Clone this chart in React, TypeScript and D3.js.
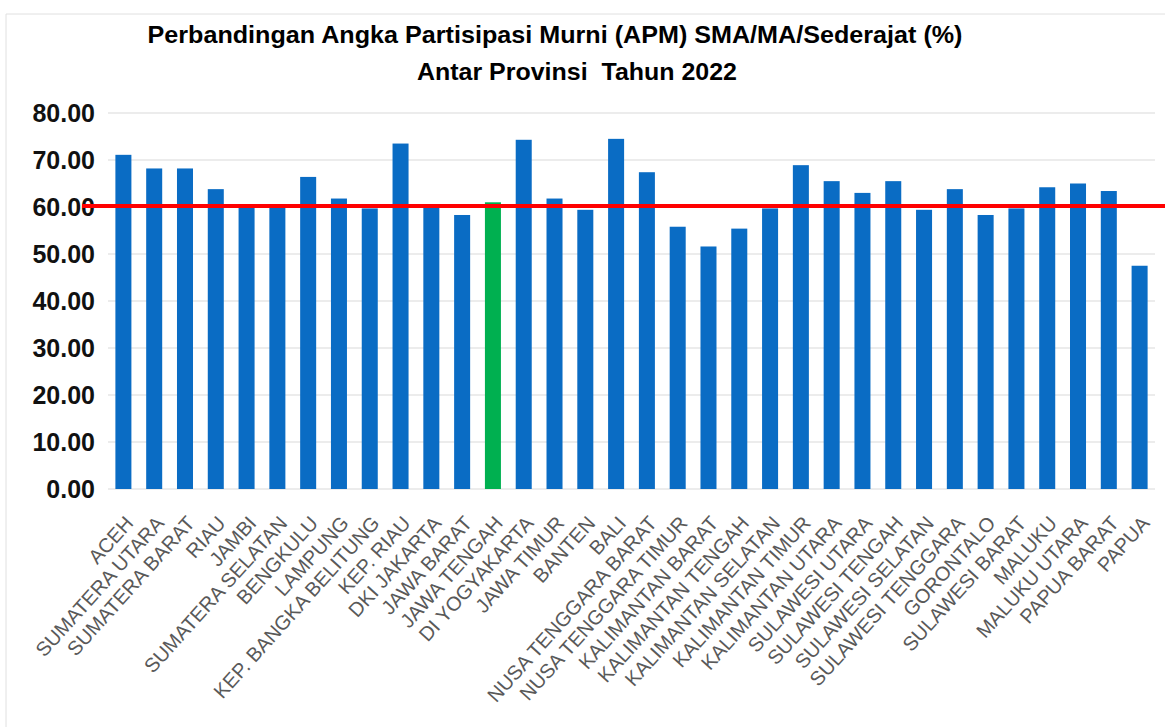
import React from 'react';
import * as d3 from 'd3';

const provinces = [
  'ACEH', 'SUMATERA UTARA', 'SUMATERA BARAT', 'RIAU', 'JAMBI', 'SUMATERA SELATAN',
  'BENGKULU', 'LAMPUNG', 'KEP. BANGKA BELITUNG', 'KEP. RIAU', 'DKI JAKARTA', 'JAWA BARAT',
  'JAWA TENGAH', 'DI YOGYAKARTA', 'JAWA TIMUR', 'BANTEN', 'BALI', 'NUSA TENGGARA BARAT',
  'NUSA TENGGARA TIMUR', 'KALIMANTAN BARAT', 'KALIMANTAN TENGAH', 'KALIMANTAN SELATAN',
  'KALIMANTAN TIMUR', 'KALIMANTAN UTARA', 'SULAWESI UTARA', 'SULAWESI TENGAH',
  'SULAWESI SELATAN', 'SULAWESI TENGGARA', 'GORONTALO', 'SULAWESI BARAT', 'MALUKU',
  'MALUKU UTARA', 'PAPUA BARAT', 'PAPUA'
];

const apm = [
  71.1, 68.2, 68.2, 63.8, 60.1, 60.1,
  66.4, 61.8, 59.7, 73.5, 60.1, 58.3,
  61.0, 74.3, 61.8, 59.4, 74.5, 67.4,
  55.8, 51.6, 55.4, 59.7,
  68.9, 65.5, 63.0, 65.5,
  59.4, 63.8, 58.3, 59.7, 64.2,
  65.0, 63.4, 47.5
];

const nationalApm = 60.2;
const highlight = 'JAWA TENGAH';
const yTicks = [0, 10, 20, 30, 40, 50, 60, 70, 80];
const titleLines = [
  'Perbandingan Angka Partisipasi Murni (APM) SMA/MA/Sederajat (%)',
  'Antar Provinsi  Tahun 2022'
];

export default function App() {
  const W = 1165, H = 727;
  const left = 108, right = 1155, top = 113, bottom = 489;

  const x = d3.scaleBand<string>()
    .domain(provinces)
    .range([left, right])
    .paddingInner(0.48)
    .paddingOuter(0.24);

  const y = d3.scaleLinear().domain([0, 80]).range([bottom, top]);

  return (
    <svg width={W} height={H} style={{ position: 'absolute', left: 0, top: 0, background: '#fff' }}
      fontFamily="'Liberation Sans', Arial, sans-serif">
      {/* frame */}
      <line x1={6} x2={W} y1={14} y2={14} stroke="#e0e0e0" />
      <line x1={6} x2={6} y1={14} y2={H} stroke="#e0e0e0" />

      {/* title */}
      <text x={555} y={43} textAnchor="middle" fontSize={23} fontWeight="bold" fill="#000"
        textLength={815} lengthAdjust="spacingAndGlyphs">{titleLines[0]}</text>
      <text x={577} y={80} textAnchor="middle" fontSize={23} fontWeight="bold" fill="#000"
        textLength={320} lengthAdjust="spacingAndGlyphs" style={{ whiteSpace: 'pre' }}>{titleLines[1]}</text>

      {/* grid + y labels */}
      {yTicks.map(t => (
        <g key={t}>
          <line x1={left} x2={right} y1={y(t)} y2={y(t)} stroke="#d9d9d9" strokeWidth={1} />
          <text x={95} y={y(t)} dy="0.36em" textAnchor="end" fontSize={25} fontWeight="bold"
            fill="#111">{t.toFixed(2)}</text>
        </g>
      ))}

      {/* bars */}
      {provinces.map((p, i) => (
        <rect key={p} x={x(p)} y={y(apm[i])} width={x.bandwidth()} height={y(0) - y(apm[i])}
          fill={p === highlight ? '#00b050' : '#0a6cc4'} />
      ))}

      {/* national line */}
      <line x1={82} x2={W} y1={y(nationalApm)} y2={y(nationalApm)} stroke="#ff0000" strokeWidth={4} />

      {/* x labels */}
      {provinces.map(p => {
        const cx = (x(p) as number) + x.bandwidth() / 2;
        return (
          <text key={p} transform={`translate(${cx + 11},${524}) rotate(-48)`} textAnchor="end"
            fontSize={20} fill="#595959">{p}</text>
        );
      })}
    </svg>
  );
}
